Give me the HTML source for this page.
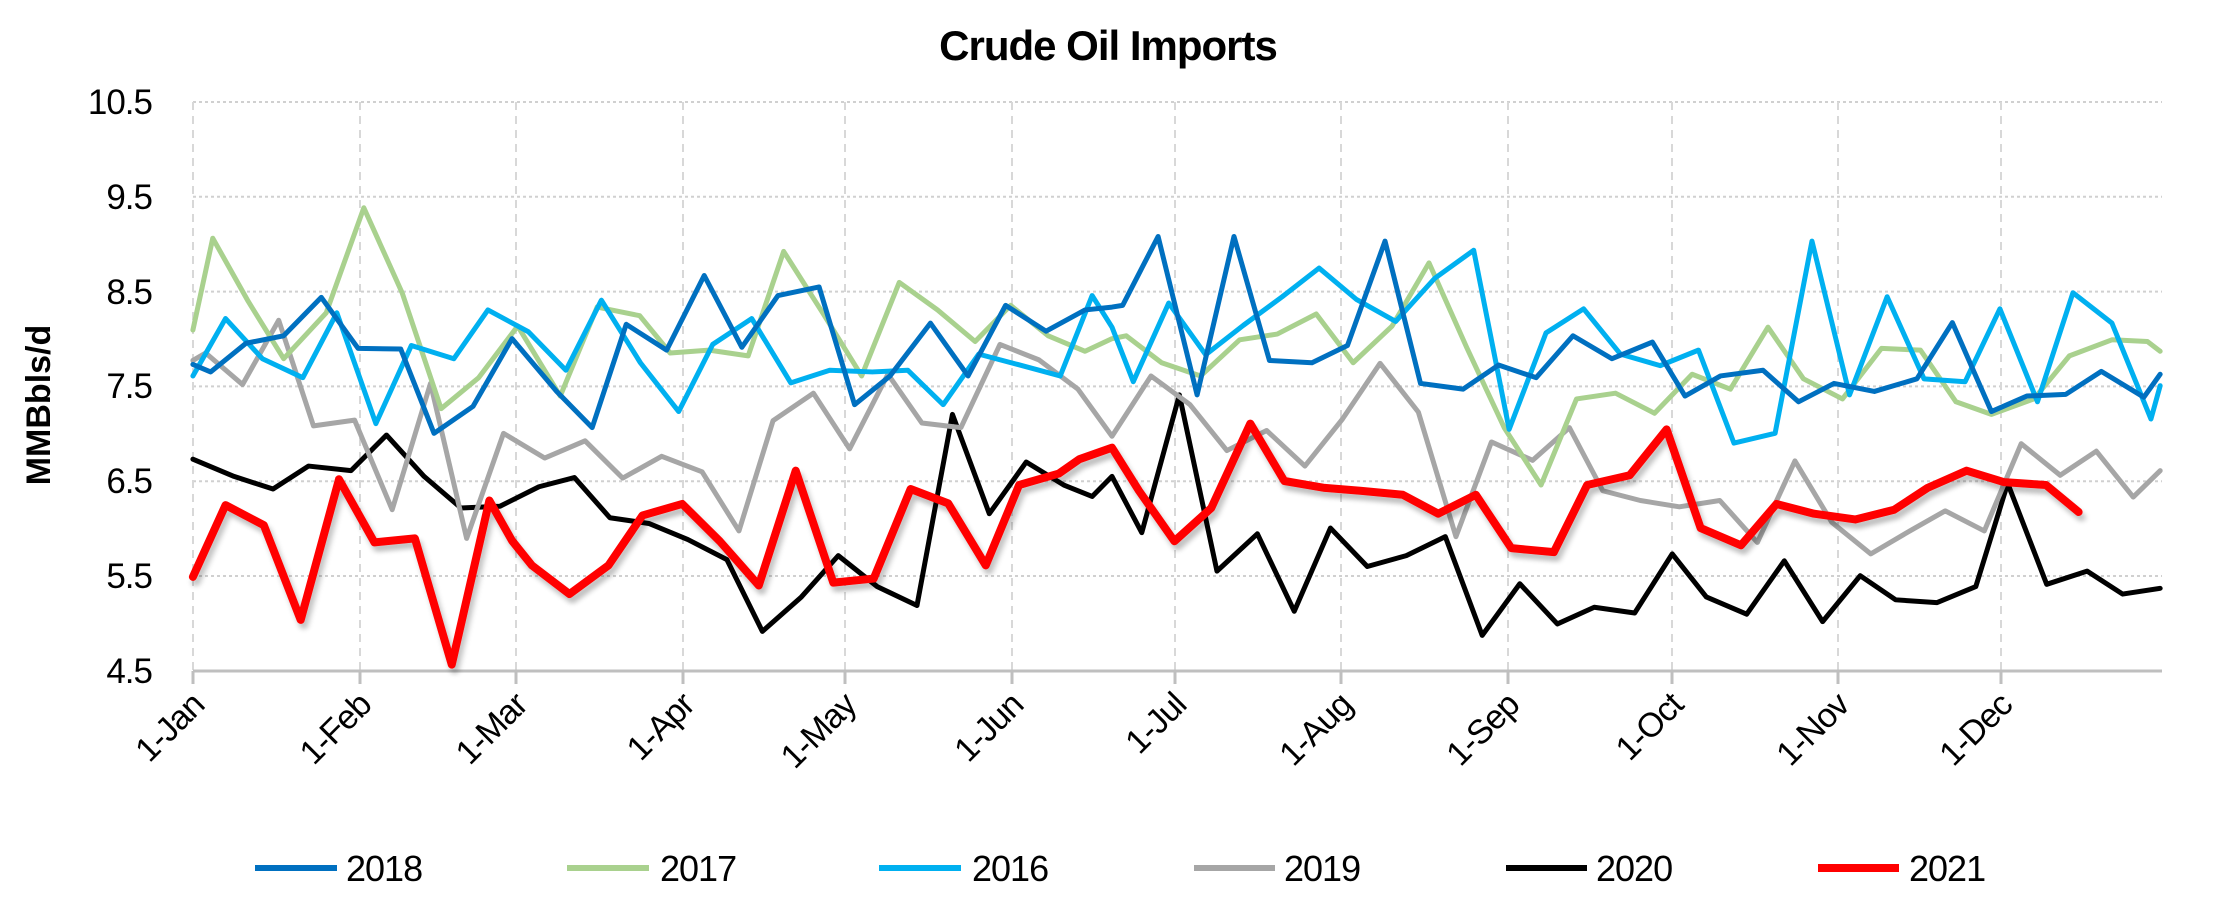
<!DOCTYPE html>
<html><head><meta charset="utf-8"><style>
html,body{margin:0;padding:0;background:#fff;}
svg{display:block;}
text{font-family:"Liberation Sans",sans-serif;fill:#000;}
</style></head><body>
<div style="position:relative;width:2224px;height:900px;">
<svg width="2224" height="900" style="position:absolute;left:0;top:0">
  <text x="1108" y="60" font-size="42" font-weight="bold" text-anchor="middle" letter-spacing="-1">Crude Oil Imports</text>
  <g stroke="#d0d0d0" stroke-width="2" stroke-dasharray="3,3">
    <line x1="193" x2="2162" y1="102" y2="102"/>
    <line x1="193" x2="2162" y1="196.8" y2="196.8"/>
    <line x1="193" x2="2162" y1="291.6" y2="291.6"/>
    <line x1="193" x2="2162" y1="386.4" y2="386.4"/>
    <line x1="193" x2="2162" y1="481.2" y2="481.2"/>
    <line x1="193" x2="2162" y1="576" y2="576"/>
  </g>
  <g stroke="#d8d8d8" stroke-width="2" stroke-dasharray="8,6">
    <line x1="193" x2="193" y1="102" y2="671"/>
    <line x1="360" x2="360" y1="102" y2="671"/>
    <line x1="516" x2="516" y1="102" y2="671"/>
    <line x1="683" x2="683" y1="102" y2="671"/>
    <line x1="845" x2="845" y1="102" y2="671"/>
    <line x1="1012" x2="1012" y1="102" y2="671"/>
    <line x1="1175" x2="1175" y1="102" y2="671"/>
    <line x1="1341" x2="1341" y1="102" y2="671"/>
    <line x1="1508" x2="1508" y1="102" y2="671"/>
    <line x1="1672" x2="1672" y1="102" y2="671"/>
    <line x1="1838" x2="1838" y1="102" y2="671"/>
    <line x1="2001" x2="2001" y1="102" y2="671"/>
  </g>
  <line x1="193" x2="2162" y1="671" y2="671" stroke="#bfbfbf" stroke-width="3"/>
  <g stroke="#bfbfbf" stroke-width="3">
    <line x1="193" x2="193" y1="671" y2="684"/><line x1="360" x2="360" y1="671" y2="684"/>
    <line x1="516" x2="516" y1="671" y2="684"/><line x1="683" x2="683" y1="671" y2="684"/>
    <line x1="845" x2="845" y1="671" y2="684"/><line x1="1012" x2="1012" y1="671" y2="684"/>
    <line x1="1175" x2="1175" y1="671" y2="684"/><line x1="1341" x2="1341" y1="671" y2="684"/>
    <line x1="1508" x2="1508" y1="671" y2="684"/><line x1="1672" x2="1672" y1="671" y2="684"/>
    <line x1="1838" x2="1838" y1="671" y2="684"/><line x1="2001" x2="2001" y1="671" y2="684"/>
  </g>
  <g font-size="35" text-anchor="end" letter-spacing="-1">
    <text x="152" y="114">10.5</text>
    <text x="152" y="209">9.5</text>
    <text x="152" y="304">8.5</text>
    <text x="152" y="398">7.5</text>
    <text x="152" y="493">6.5</text>
    <text x="152" y="588">5.5</text>
    <text x="152" y="683">4.5</text>
  </g>
  <text transform="translate(50,405) rotate(-90)" font-size="34" font-weight="bold" text-anchor="middle">MMBbls/d</text>
  <g font-size="34" text-anchor="end" letter-spacing="-1">
    <text transform="translate(206,707) rotate(-45)">1-Jan</text>
    <text transform="translate(373,707) rotate(-45)">1-Feb</text>
    <text transform="translate(529,707) rotate(-45)">1-Mar</text>
    <text transform="translate(696,707) rotate(-45)">1-Apr</text>
    <text transform="translate(858,707) rotate(-45)">1-May</text>
    <text transform="translate(1025,707) rotate(-45)">1-Jun</text>
    <text transform="translate(1188,707) rotate(-45)">1-Jul</text>
    <text transform="translate(1354,707) rotate(-45)">1-Aug</text>
    <text transform="translate(1521,707) rotate(-45)">1-Sep</text>
    <text transform="translate(1685,707) rotate(-45)">1-Oct</text>
    <text transform="translate(1851,707) rotate(-45)">1-Nov</text>
    <text transform="translate(2014,707) rotate(-45)">1-Dec</text>
  </g>
  <g stroke-width="6">
    <line x1="255" x2="337" y1="868" y2="868" stroke="#0070c0"/>
    <line x1="567" x2="649" y1="868" y2="868" stroke="#a9d18e"/>
    <line x1="879" x2="961" y1="868" y2="868" stroke="#00b0f0"/>
    <line x1="1194" x2="1275" y1="868" y2="868" stroke="#a6a6a6"/>
    <line x1="1506" x2="1587" y1="868" y2="868" stroke="#000"/>
    <line x1="1818" x2="1899" y1="868" y2="868" stroke="#ff0000" stroke-width="8"/>
  </g>
  <g font-size="36" letter-spacing="-1">
    <text x="346" y="881">2018</text>
    <text x="660" y="881">2017</text>
    <text x="972" y="881">2016</text>
    <text x="1284" y="881">2019</text>
    <text x="1596" y="881">2020</text>
    <text x="1909" y="881">2021</text>
  </g>
</svg>
<svg width="2224" height="900" viewBox="0 0 3136 1568" preserveAspectRatio="none" style="position:absolute;left:0;top:0">
<defs><filter id="sh" x="-5%" y="-20%" width="110%" height="140%"><feGaussianBlur in="SourceAlpha" stdDeviation="4"/><feOffset dx="4" dy="10"/><feComponentTransfer><feFuncA type="linear" slope="0.25"/></feComponentTransfer><feMerge><feMergeNode/><feMergeNode in="SourceGraphic"/></feMerge></filter></defs>
<g fill="none" stroke-linejoin="round" stroke-linecap="round">
<polyline vector-effect="non-scaling-stroke" stroke="#000" stroke-width="5" points="272,800 330,830 385,852 435,812 495,820 545,758 598,830 650,885 705,882 760,848 810,832 860,902 915,912 970,940 1025,975 1075,1100 1130,1040 1182,968 1237,1022 1293,1055 1343,722 1395,895 1447,805 1500,845 1540,865 1568,830 1610,928 1663,688 1716,995 1773,930 1825,1065 1876,920 1928,987 1983,968 2038,935 2090,1107 2143,1017 2196,1087 2248,1058 2305,1068 2358,965 2406,1040 2463,1070 2516,977 2570,1083 2623,1003 2673,1045 2731,1050 2786,1022 2831,842 2886,1018 2943,995 2993,1035 3046,1025"/>
<polyline vector-effect="non-scaling-stroke" stroke="#a6a6a6" stroke-width="5" points="272,628 290,615 342,670 393,558 442,742 500,732 553,888 607,668 658,938 710,755 768,798 825,768 878,833 933,795 990,822 1042,925 1090,733 1147,685 1198,782 1252,652 1300,737 1355,745 1410,600 1465,627 1520,678 1568,760 1623,655 1678,705 1730,785 1786,750 1840,812 1893,730 1946,633 2000,718 2053,935 2103,770 2161,802 2213,745 2260,855 2313,872 2368,883 2425,872 2478,945 2531,803 2583,910 2638,965 2693,925 2743,890 2798,925 2850,773 2905,828 2956,786 3008,866 3046,820"/>
<polyline vector-effect="non-scaling-stroke" stroke="#a9d18e" stroke-width="5" points="272,575 300,415 350,525 400,625 460,545 513,362 567,510 622,712 675,658 730,568 790,690 842,535 902,550 945,615 1000,610 1055,620 1105,438 1160,545 1215,655 1268,492 1322,540 1375,595 1425,532 1478,585 1530,612 1568,590 1588,585 1638,632 1693,655 1748,592 1801,582 1856,547 1908,632 1963,568 2015,458 2068,605 2121,745 2173,845 2223,695 2278,685 2333,720 2386,652 2440,678 2493,570 2543,660 2598,695 2653,607 2708,610 2758,700 2808,722 2868,695 2918,620 2978,592 3028,595 3046,612"/>
<polyline vector-effect="non-scaling-stroke" stroke="#00b0f0" stroke-width="5" points="272,655 318,555 370,625 427,658 475,545 530,738 580,602 640,625 688,540 745,578 798,645 848,523 903,632 957,717 1005,600 1060,555 1115,667 1170,645 1230,648 1280,645 1330,705 1380,617 1435,635 1495,655 1540,515 1568,570 1598,665 1648,528 1700,618 1753,567 1808,517 1860,467 1913,522 1968,560 2023,485 2078,436 2128,748 2180,580 2233,538 2285,617 2341,637 2395,610 2445,772 2503,755 2555,420 2608,688 2661,517 2713,660 2771,665 2820,538 2873,700 2923,510 2978,563 3033,730 3046,672"/>
<polyline vector-effect="non-scaling-stroke" stroke="#0070c0" stroke-width="5" points="272,635 297,648 347,598 400,585 453,518 505,607 565,608 612,755 667,708 722,590 785,682 835,745 883,565 940,610 993,480 1046,605 1097,515 1155,500 1205,705 1255,655 1312,563 1365,655 1418,532 1475,577 1530,540 1568,535 1583,532 1633,412 1688,688 1740,412 1790,628 1850,632 1900,602 1953,420 2003,668 2063,678 2113,636 2166,658 2218,585 2273,625 2330,596 2376,690 2426,655 2486,645 2536,700 2586,668 2643,682 2703,660 2753,562 2808,717 2858,690 2913,687 2963,647 3023,692 3046,652"/>
<polyline vector-effect="non-scaling-stroke" filter="url(#sh)" stroke="#ff0000" stroke-width="8" points="272,1005 318,880 372,915 424,1080 478,835 528,945 585,938 637,1158 690,872 722,942 750,985 803,1035 858,985 906,898 962,878 1015,943 1070,1020 1122,820 1175,1015 1232,1008 1284,852 1337,877 1390,985 1437,845 1493,825 1522,800 1568,780 1606,855 1656,943 1708,885 1763,738 1811,838 1868,850 1918,855 1978,862 2028,895 2081,862 2131,955 2191,962 2238,845 2298,828 2350,748 2398,920 2455,950 2505,878 2558,895 2616,905 2671,888 2718,850 2773,820 2826,840 2885,845 2931,892"/>
</g>
</svg>
</div>
</body></html>
